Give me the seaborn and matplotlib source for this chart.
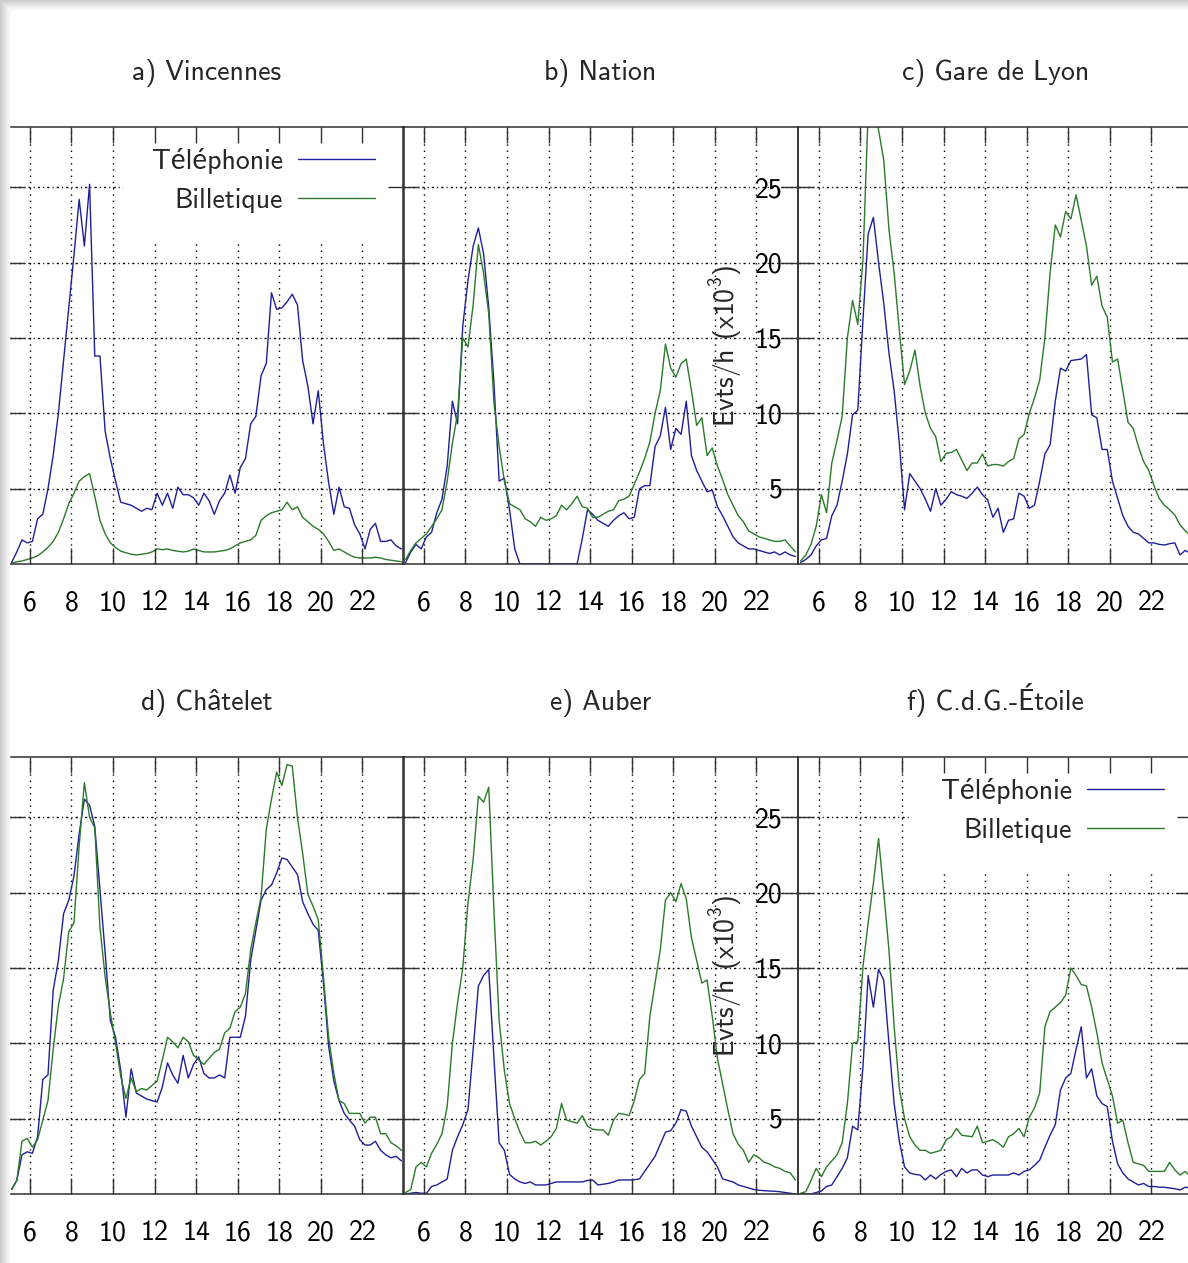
# ============================================================
# METRO STATIONS : TELEPHONY vs TICKETING ACTIVITY (15 min bins)
# ============================================================

import numpy as np
import pandas as pd
import seaborn as sns
import matplotlib.pyplot as plt
from matplotlib.patches import Rectangle

# ------------------------------------------------------------
# DATA  (x10^3 events / hour, one value per quarter hour)
# ------------------------------------------------------------
HOURS = 5.125 + 0.25 * np.arange(76)   # centre of each 15 min bin

STATIONS = ["a) Vincennes", "b) Nation", "c) Gare de Lyon",
            "d) Châtelet", "e) Auber", "f) C.d.G.-Étoile"]
SERIES = ["Téléphonie", "Billetique"]

tel_vincennes = [0.1, 0.8, 1.6, 1.4, 1.5, 3.0, 3.3, 5.0, 7.2, 10.0,
                 13.5, 17.0, 20.5, 24.2, 21.1, 25.2, 13.8, 13.8, 8.8, 7.0,
                 5.5, 4.1, 4.0, 3.9, 3.7, 3.5, 3.7, 3.6, 4.7, 3.9,
                 4.7, 3.7, 5.1, 4.6, 4.6, 4.4, 3.9, 4.7, 4.2, 3.3,
                 4.2, 4.7, 5.9, 4.7, 6.4, 7.0, 9.3, 9.8, 12.5, 13.3,
                 18.0, 16.9, 17.0, 17.4, 17.9, 17.2, 13.5, 11.8, 9.3, 11.5,
                 8.0, 5.4, 3.3, 5.1, 3.8, 3.7, 2.6, 2.0, 1.0, 2.3,
                 2.7, 1.5, 1.5, 1.6, 1.2, 1.0]
bil_vincennes = [0.05, 0.15, 0.2, 0.3, 0.4, 0.55, 0.8, 1.1, 1.5, 2.1,
                 3.0, 4.0, 4.7, 5.5, 5.8, 6.0, 4.5, 2.9, 2.0, 1.4,
                 1.1, 0.85, 0.75, 0.65, 0.6, 0.65, 0.7, 0.8, 1.0, 0.95,
                 1.0, 0.9, 0.85, 0.8, 0.85, 1.0, 0.9, 0.8, 0.8, 0.8,
                 0.85, 0.9, 1.0, 1.2, 1.4, 1.5, 1.6, 1.9, 2.9, 3.2,
                 3.4, 3.5, 3.6, 4.1, 3.6, 3.8, 3.1, 2.8, 2.5, 2.3,
                 2.0, 1.5, 0.9, 1.0, 0.8, 0.6, 0.45, 0.4, 0.4, 0.4,
                 0.45, 0.4, 0.3, 0.25, 0.2, 0.15]

tel_nation = [0.1, 0.8, 1.3, 1.0, 1.8, 2.1, 3.4, 4.3, 6.5, 10.8,
              9.3, 15.8, 18.8, 21.1, 22.3, 20.6, 17.0, 12.0, 5.5, 5.7,
              3.6, 1.0, 0, 0, 0, 0, 0, 0, 0, 0,
              0, 0, 0, 0, 1.7, 3.6, 3.3, 2.9, 2.7, 2.5,
              2.9, 3.2, 3.4, 3.0, 3.1, 5.0, 5.2, 5.2, 7.8, 8.5,
              10.4, 7.6, 9.0, 8.6, 10.8, 7.2, 6.2, 5.5, 4.8, 4.9,
              3.8, 3.2, 2.5, 1.8, 1.4, 1.2, 1.0, 1.0, 0.9, 0.8,
              0.7, 0.8, 0.6, 0.8, 0.6, 0.5]
bil_nation = [0.3, 0.9, 1.4, 1.7, 2.0, 2.5, 3.0, 3.6, 5.5, 8.0,
              10.0, 15.0, 14.4, 17.2, 21.2, 19.3, 16.6, 10.7, 7.8, 5.5,
              4.0, 3.8, 3.6, 3.0, 2.8, 2.5, 3.1, 2.9, 3.0, 3.2,
              3.9, 3.6, 4.0, 4.5, 3.8, 3.7, 3.1, 3.1, 3.3, 3.5,
              3.6, 4.2, 4.3, 4.5, 5.3, 6.1, 7.0, 8.1, 10.0, 11.5,
              14.6, 13.0, 12.4, 13.3, 13.6, 11.5, 9.2, 9.7, 7.2, 7.7,
              6.5, 5.6, 4.6, 3.9, 3.2, 2.8, 2.2, 2.0, 1.8, 1.7,
              1.6, 1.5, 1.5, 1.6, 1.2, 0.8]

tel_lyon = [0.1, 0.3, 0.6, 1.2, 1.6, 1.7, 3.2, 3.9, 5.5, 7.3,
            9.9, 10.2, 16.2, 21.9, 23.0, 20.0, 17.3, 14.0, 11.5, 8.0,
            3.6, 6.0, 5.5, 5.0, 4.3, 3.5, 5.0, 3.9, 4.3, 4.8,
            4.6, 4.5, 4.35, 4.7, 5.1, 4.6, 4.25, 3.1, 3.7, 2.1,
            2.9, 3.0, 4.7, 4.5, 3.7, 3.9, 5.5, 7.3, 7.9, 10.8,
            13.0, 12.8, 13.5, 13.55, 13.6, 13.9, 9.9, 9.7, 7.6, 7.6,
            5.5, 4.35, 3.2, 2.5, 2.1, 2.0, 1.7, 1.4, 1.4, 1.3,
            1.26, 1.35, 1.4, 0.6, 0.9, 0.7]
bil_lyon = [0.2, 0.6, 1.3, 2.5, 4.6, 3.4, 6.7, 8.2, 9.8, 15.0,
            17.5, 15.9, 20.2, 30.0, 31.0, 28.8, 26.8, 22.2, 19.3, 15.5,
            11.9, 12.8, 14.2, 11.8, 10.0, 9.0, 8.45, 6.8, 7.35, 7.4,
            7.6, 6.9, 6.2, 6.7, 6.7, 7.3, 6.5, 6.6, 6.6, 6.5,
            6.8, 7.0, 8.3, 8.6, 10.0, 11.0, 12.2, 15.0, 19.3, 22.5,
            21.7, 23.4, 22.9, 24.5, 22.8, 21.1, 18.5, 19.1, 17.1, 16.4,
            13.4, 13.6, 11.5, 9.4, 9.0, 7.8, 6.8, 6.2, 5.2, 4.35,
            3.9, 3.6, 3.25, 2.6, 2.2, 1.9]

tel_chatelet = [0.3, 0.9, 2.6, 2.8, 2.7, 3.8, 7.6, 7.9, 13.5, 15.5,
                18.6, 19.5, 21.1, 23.9, 26.2, 25.8, 24.4, 20.2, 16.0, 11.5,
                10.4, 8.2, 5.1, 8.3, 6.7, 6.5, 6.3, 6.2, 6.1, 7.1,
                8.7, 7.9, 7.35, 9.2, 7.7, 8.6, 9.1, 8.0, 7.7, 7.7,
                7.9, 7.7, 10.4, 10.4, 10.4, 11.8, 15.5, 17.5, 19.5, 20.2,
                20.5, 21.3, 22.3, 22.2, 21.7, 21.2, 19.4, 18.6, 17.9, 17.5,
                14.0, 9.8, 7.5, 6.2, 5.35, 4.9, 4.5, 3.6, 3.25, 3.25,
                3.5, 2.9, 2.6, 2.4, 2.5, 2.2]
bil_chatelet = [0.3, 0.9, 3.5, 3.7, 3.1, 3.6, 4.9, 6.2, 9.6, 12.5,
                14.3, 17.4, 18.0, 23.1, 27.3, 25.0, 24.3, 17.7, 14.4, 12.0,
                10.0, 7.8, 6.35, 7.7, 6.8, 7.0, 6.9, 7.2, 7.5, 8.9,
                10.4, 10.1, 9.7, 10.4, 10.1, 9.2, 8.9, 8.6, 9.0, 9.4,
                9.6, 10.7, 11.0, 12.1, 12.4, 13.3, 16.2, 18.0, 19.7, 24.2,
                26.2, 28.0, 27.1, 28.5, 28.4, 25.0, 22.6, 19.9, 19.1, 18.2,
                14.4, 10.4, 8.0, 6.2, 6.0, 5.35, 5.35, 5.35, 4.7, 5.1,
                5.1, 4.0, 4.0, 3.4, 3.2, 2.9]

tel_auber = [0.0, 0.05, 0.1, 0.05, 0.05, 0.5, 0.6, 0.8, 1.0, 2.9,
             3.8, 4.6, 5.6, 9.6, 13.8, 14.5, 14.9, 9.0, 3.4, 2.9,
             1.3, 1.0, 0.8, 0.7, 0.8, 0.6, 0.6, 0.6, 0.7, 0.8,
             0.8, 0.8, 0.8, 0.8, 0.8, 0.9, 0.93, 0.6, 0.65, 0.7,
             0.8, 0.93, 0.93, 0.93, 0.95, 1.0, 1.5, 2.0, 2.5, 3.3,
             4.1, 4.2, 4.7, 5.6, 5.5, 4.5, 3.8, 3.1, 2.8, 2.3,
             1.8, 1.0, 0.9, 0.8, 0.6, 0.5, 0.4, 0.3, 0.25, 0.22,
             0.2, 0.18, 0.15, 0.1, 0.05, 0.0]
bil_auber = [0.1, 0.3, 1.8, 2.1, 1.8, 2.7, 3.3, 4.0, 5.8, 10.0,
             12.7, 15.0, 19.3, 22.2, 26.4, 26.0, 27.0, 18.8, 11.5, 8.2,
             6.0, 5.0, 4.1, 3.4, 3.4, 3.5, 3.25, 3.5, 3.8, 4.35,
             6.0, 4.9, 4.8, 4.7, 5.2, 4.5, 4.3, 4.25, 4.25, 3.9,
             4.9, 5.35, 5.3, 5.2, 6.2, 7.6, 8.0, 11.8, 14.0, 16.2,
             19.5, 20.0, 19.4, 20.6, 19.6, 17.0, 15.5, 14.0, 14.2, 11.8,
             9.0, 7.3, 5.6, 4.0, 3.3, 2.9, 2.1, 2.6, 2.4, 2.1,
             2.0, 1.8, 1.7, 1.5, 1.4, 0.93]

tel_etoile = [0.0, 0.0, 0.0, 0.1, 0.2, 0.5, 0.6, 1.15, 1.7, 2.4,
              4.5, 4.25, 8.45, 14.5, 12.4, 14.9, 14.2, 10.0, 6.0, 3.5,
              1.8, 1.4, 1.3, 1.26, 0.93, 1.26, 1.0, 1.3, 1.5, 1.6,
              1.15, 1.7, 1.4, 1.6, 1.6, 1.26, 1.15, 1.26, 1.26, 1.26,
              1.26, 1.4, 1.26, 1.5, 1.6, 1.9, 2.25, 3.1, 3.9, 4.6,
              6.9, 7.7, 8.0, 9.6, 11.1, 7.7, 8.3, 6.5, 6.0, 5.8,
              3.5, 2.0, 1.4, 1.0, 0.8, 0.6, 0.7, 0.5, 0.5, 0.45,
              0.45, 0.4, 0.35, 0.27, 0.45, 0.4]
bil_etoile = [0.05, 0.15, 0.9, 1.7, 1.15, 1.8, 2.2, 2.6, 3.4, 6.0,
              10.0, 10.1, 15.1, 18.0, 20.6, 23.6, 20.0, 16.2, 11.1, 7.0,
              5.0, 3.8, 3.25, 2.9, 2.9, 2.7, 2.8, 2.9, 3.6, 3.8,
              4.35, 3.9, 3.85, 3.8, 4.5, 3.4, 3.5, 3.6, 3.4, 3.1,
              3.8, 4.0, 4.35, 3.8, 5.1, 5.7, 6.7, 11.1, 12.1, 12.4,
              12.7, 13.2, 15.0, 14.5, 13.9, 13.8, 12.4, 10.7, 8.7, 7.6,
              6.5, 4.7, 4.9, 3.4, 2.1, 2.0, 1.9, 1.5, 1.5, 1.5,
              1.5, 2.1, 1.6, 1.26, 1.5, 1.15]

TEL = [tel_vincennes, tel_nation, tel_lyon, tel_chatelet, tel_auber, tel_etoile]
BIL = [bil_vincennes, bil_nation, bil_lyon, bil_chatelet, bil_auber, bil_etoile]

X_TICKS = [6, 8, 10, 12, 14, 16, 18, 20, 22]
Y_TICKS = [5, 10, 15, 20, 25]

# ------------------------------------------------------------
# STYLE
# ------------------------------------------------------------
sns.set_theme(style="white")
# cmss10 has no accented letters -> Lato fills them in
plt.rcParams["font.family"] = ["cmss10", "Lato", "DejaVu Sans"]
plt.rcParams["mathtext.fontset"] = "custom"
plt.rcParams["mathtext.rm"] = "cmss10"
plt.rcParams["mathtext.it"] = "cmss10"
plt.rcParams["axes.unicode_minus"] = False

BLUE = "#1f1f99"
GREEN = "#2a7a2a"
FS = 20

# ------------------------------------------------------------
# FIGURE / LAYOUT (pixel grid of the original page)
# ------------------------------------------------------------
W, H = 1188, 1263
fig = plt.figure(figsize=(W / 100, H / 100), dpi=100)
fig.patch.set_facecolor("white")

# page shadow on the top and left edges
for i in range(9):
    shade = str(0.80 + 0.02 * i)
    fig.patches.append(Rectangle((i / W, 0), 1 / W, 1 - i / H,
                                 transform=fig.transFigure, color=shade, zorder=0))
    fig.patches.append(Rectangle((i / W, 1 - (i + 1) / H), 1, 1 / H,
                                 transform=fig.transFigure, color=shade, zorder=0))

LEFTS = [9, 403, 798]
TOPS = [127, 757]
PW, PH = 395, 437

for idx, station in enumerate(STATIONS):
    row, col = divmod(idx, 3)
    ax = fig.add_axes([LEFTS[col] / W, 1 - (TOPS[row] + PH) / H, PW / W, PH / H])
    ax.set_facecolor("none")

    df = pd.DataFrame({
        "hour": np.concatenate([HOURS, HOURS]),
        "value": TEL[idx] + BIL[idx],
        "source": [SERIES[0]] * len(HOURS) + [SERIES[1]] * len(HOURS),
    })
    sns.lineplot(data=df, x="hour", y="value", hue="source", hue_order=SERIES,
                 palette=[BLUE, GREEN], estimator=None, linewidth=1.0,
                 legend=False, ax=ax)
    handles = list(ax.lines)

    ax.set_xlim(5, 24)
    ax.set_ylim(0, 29)
    ax.set_xticks(X_TICKS)
    ax.set_xticklabels([str(t) for t in X_TICKS])
    ax.set_yticks(Y_TICKS)
    ax.set_yticklabels([str(t) for t in Y_TICKS])
    ax.set_xlabel("")
    ax.set_ylabel("")

    # grid drawn by hand so that the key box can hide it but not the ticks
    for t in X_TICKS:
        ax.axvline(t, color="black", lw=1.0, ls=(0, (1, 3.5)), zorder=1)
    for t in Y_TICKS:
        ax.axhline(t, color="black", lw=1.0, ls=(0, (1.6, 2.2, 0.8, 2.2)), zorder=1)

    ax.tick_params(axis="both", direction="in", length=11.5, width=1.0,
                   colors="#303030", labelcolor="black", labelsize=FS,
                   top=True, right=True, bottom=True, left=True)
    ax.tick_params(axis="x", pad=19)
    ax.tick_params(axis="y", pad=11, labelleft=(col == 2))
    for sp in ax.spines.values():
        sp.set_color("#303030")
        sp.set_linewidth(1.1)
        sp.set_zorder(6)
    ax.xaxis.set_zorder(6)
    ax.yaxis.set_zorder(6)

    ax.set_title(station, fontsize=FS, pad=34)

    if col == 2:
        ax.set_ylabel("Evts/h (x10$^3$)", fontsize=FS, labelpad=8)

    if idx in (0, 5):
        leg = ax.legend(handles, SERIES, loc="upper right",
                        bbox_to_anchor=(1.0, 1.0 + 8 / PH), borderaxespad=0,
                        markerfirst=False, frameon=True, fancybox=False,
                        framealpha=1, facecolor="white", edgecolor="none",
                        handlelength=2.75, handletextpad=0.55,
                        labelspacing=0.5, borderpad=1.05, fontsize=FS)
        leg.set_zorder(5)

fig.savefig("out.png", dpi=100)
